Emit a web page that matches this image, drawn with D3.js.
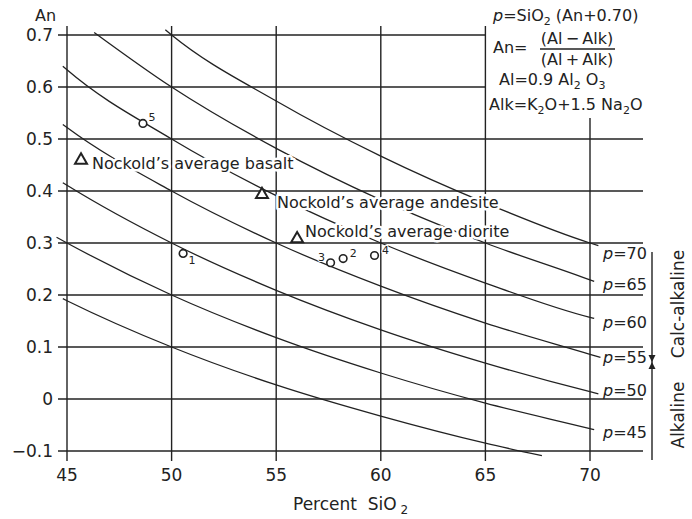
<!DOCTYPE html>
<html>
<head>
<meta charset="utf-8">
<script src="https://cdn.jsdelivr.net/npm/d3@7"></script>
<style>
  body{margin:0;background:#fff}
  svg text{font-family:"DejaVu Sans",sans-serif;fill:#222}
  .halo{stroke:#fff;stroke-width:5px;stroke-linejoin:round;paint-order:stroke}
</style>
</head>
<body>
<svg id="chart" width="692" height="519"></svg>
<script>
// axis ticks
var xTicks = [45, 50, 55, 60, 65, 70];
var yTicks = [-0.1, 0, 0.1, 0.2, 0.3, 0.4, 0.5, 0.6, 0.7];
var yTickLabels = ["\u22120.1", "0", "0.1", "0.2", "0.3", "0.4", "0.5", "0.6", "0.7"];

// p curves, [SiO2, An]
var pValues = [70, 65, 60, 55, 50, 45, 40];
var curveP70 = [[49.7,0.710],[50,0.700],[55,0.573],[60,0.467],[65,0.377],[70,0.300],[70.4,0.295]];
var curveP65 = [[46.3,0.705],[50,0.600],[55,0.482],[60,0.383],[65,0.300],[70,0.229],[70.2,0.226]];
var curveP60 = [[44.8,0.640],[45,0.633],[50,0.500],[55,0.391],[60,0.300],[65,0.223],[70,0.157],[70.2,0.155]];
var curveP55 = [[44.8,0.528],[45,0.522],[50,0.400],[55,0.300],[60,0.217],[65,0.146],[70,0.086],[70.5,0.080]];
var curveP50 = [[44.8,0.416],[45,0.411],[50,0.300],[55,0.209],[60,0.133],[65,0.069],[70,0.014],[70.4,0.010]];
var curveP45 = [[44.5,0.311],[45,0.300],[50,0.200],[55,0.118],[60,0.050],[65,-0.008],[70,-0.057],[70.2,-0.059]];
var curveP40 = [[44.8,0.193],[45,0.189],[50,0.100],[55,0.027],[60,-0.033],[65,-0.085],[67.7,-0.109]];
var curves = [curveP70, curveP65, curveP60, curveP55, curveP50, curveP45, curveP40];
var curveLabelled = [true, true, true, true, true, true, false];

// numbered samples
var sampleIds  = ["1", "2", "3", "4", "5"];
var sampleSiO2 = [50.55, 58.2, 57.6, 59.7, 48.63];
var sampleAn   = [0.280, 0.270, 0.262, 0.276, 0.530];

// Nockold's averages
var nockNames = ["Nockold\u2019s average basalt", "Nockold\u2019s average andesite", "Nockold\u2019s average diorite"];
var nockSiO2  = [45.67, 54.32, 56.0];
var nockAn    = [0.461, 0.395, 0.310];

var svg = d3.select("#chart");
var ink = "#222";

var x = d3.scaleLinear().domain([45, 70]).range([67, 590]);
var y = d3.scaleLinear().domain([-0.1, 0.7]).range([451, 35]);

// grid
var grid = svg.append("g").attr("stroke", ink).attr("stroke-width", 1.4);
grid.selectAll("line.h").data(yTicks).enter().append("line").attr("class","h")
    .attr("x1", 58).attr("x2", function(d){ return d >= 0.55 ? x(65) : 643; })
    .attr("y1", y).attr("y2", y);
grid.selectAll("line.v").data(xTicks).enter().append("line").attr("class","v")
    .attr("x1", x).attr("x2", x)
    .attr("y1", function(d){ return d == 70 ? 118 : 26; }).attr("y2", 461);

// tick labels
svg.selectAll("text.yt").data(yTicks).enter().append("text").attr("class","yt")
    .attr("x", 53).attr("y", y).attr("dy", "0.36em").attr("text-anchor","end")
    .style("font-size","17px").text(function(d,i){ return yTickLabels[i]; });
svg.selectAll("text.xt").data(xTicks).enter().append("text").attr("class","xt")
    .attr("x", x).attr("y", 481).attr("text-anchor","middle")
    .style("font-size","17px").text(function(d){ return d; });

svg.append("text").attr("x", 35).attr("y", 21).style("font-size","16px").text("An");
var xl = svg.append("text").attr("x", 293).attr("y", 510).style("font-size","17px")
    .attr("xml:space","preserve");
xl.append("tspan").text("Percent  SiO");
xl.append("tspan").attr("dy", 4).style("font-size","12px").text(" 2");

// p curves
var line = d3.line().x(function(d){ return x(d[0]); }).y(function(d){ return y(d[1]); })
    .curve(d3.curveMonotoneX);
svg.append("g").selectAll("path").data(curves).enter().append("path")
    .attr("d", line).attr("fill","none").attr("stroke", ink).attr("stroke-width", 1.3);

// p labels at the curve ends
var pLabelShift = [7, 2, 4, 0, -4, 2, 0];
curves.forEach(function(c, i){
    if(!curveLabelled[i]) return;
    var end = c[c.length-1];
    var t = svg.append("text").attr("x", 603).attr("y", y(end[1]) + pLabelShift[i]).attr("dy","0.38em")
        .style("font-size","16px");
    t.append("tspan").style("font-style","italic").text("p");
    t.append("tspan").text("=" + pValues[i]);
});

// Nockold labels and triangles
var nockDx = [11, 15, 8], nockDy = [10, 14, -1];
svg.selectAll("text.nock").data(nockNames).enter().append("text").attr("class","nock halo")
    .attr("x", function(d,i){ return x(nockSiO2[i]) + nockDx[i]; })
    .attr("y", function(d,i){ return y(nockAn[i]) + nockDy[i]; })
    .style("font-size","16px").text(function(d){ return d; });
svg.selectAll("path.tri").data(nockNames).enter().append("path").attr("class","tri")
    .attr("d", d3.symbol().type(d3.symbolTriangle).size(62))
    .attr("transform", function(d,i){ return "translate(" + x(nockSiO2[i]) + "," + (y(nockAn[i]) + 1) + ")"; })
    .attr("fill","#fff").attr("stroke", ink).attr("stroke-width", 2);

// samples
var sDx = [9, 10, -9, 11, 9], sDy = [7, -5, -6, -5, -6];
svg.selectAll("circle.s").data(sampleIds).enter().append("circle").attr("class","s")
    .attr("cx", function(d,i){ return x(sampleSiO2[i]); })
    .attr("cy", function(d,i){ return y(sampleAn[i]); })
    .attr("r", 3.8).attr("fill","#fff").attr("stroke", ink).attr("stroke-width", 1.6);
svg.selectAll("text.s").data(sampleIds).enter().append("text").attr("class","s halo")
    .attr("x", function(d,i){ return x(sampleSiO2[i]) + sDx[i]; })
    .attr("y", function(d,i){ return y(sampleAn[i]) + sDy[i]; })
    .attr("dy","0.35em").attr("text-anchor","middle").style("font-size","11px")
    .style("stroke-width","2px").style("fill", ink).text(function(d){ return d; });

// formula box top right
var f = svg.append("g").style("font-size","16px");
var l1 = f.append("text").attr("x", 493).attr("y", 21);
l1.append("tspan").style("font-style","italic").text("p");
l1.append("tspan").text("=SiO");
l1.append("tspan").attr("dy", 4).style("font-size","11px").text("2");
l1.append("tspan").attr("dy", -4).text(" (An+0.70)");
f.append("text").attr("x", 493).attr("y", 53).text("An=");
f.append("text").attr("x", 577).attr("y", 44).attr("text-anchor","middle").text("(Al\u2009\u2212\u2009Alk)");
f.append("line").attr("x1", 540).attr("x2", 615).attr("y1", 49).attr("y2", 49)
    .attr("stroke", ink).attr("stroke-width", 1.3);
f.append("text").attr("x", 577).attr("y", 65).attr("text-anchor","middle").text("(Al\u2009+\u2009Alk)");
var l3 = f.append("text").attr("x", 499).attr("y", 85);
l3.append("tspan").text("Al=0.9 Al");
l3.append("tspan").attr("dy", 4).style("font-size","11px").text("2");
l3.append("tspan").attr("dy", -4).text(" O");
l3.append("tspan").attr("dy", 4).style("font-size","11px").text("3");
var l4 = f.append("text").attr("x", 489).attr("y", 110);
l4.append("tspan").text("Alk=K");
l4.append("tspan").attr("dy", 4).style("font-size","11px").text("2");
l4.append("tspan").attr("dy", -4).text("O+1.5 Na");
l4.append("tspan").attr("dy", 4).style("font-size","11px").text("2");
l4.append("tspan").attr("dy", -4).text("O");

// calc-alkaline / alkaline bracket
var bx = 652, by = 362;
svg.append("line").attr("x1", bx).attr("x2", bx).attr("y1", 252).attr("y2", 460)
    .attr("stroke", ink).attr("stroke-width", 1.4);
svg.append("path").attr("d", "M" + (bx-3.5) + "," + (by-7) + "L" + (bx+3.5) + "," + (by-7) + "L" + bx + "," + by + "Z")
    .attr("fill", ink);
svg.append("path").attr("d", "M" + (bx-3.5) + "," + (by+7) + "L" + (bx+3.5) + "," + (by+7) + "L" + bx + "," + by + "Z")
    .attr("fill", ink);
svg.append("text").attr("transform","translate(684,304) rotate(-90)").attr("text-anchor","middle")
    .style("font-size","17px").text("Calc-alkaline");
svg.append("text").attr("transform","translate(684,415) rotate(-90)").attr("text-anchor","middle")
    .style("font-size","17px").text("Alkaline");
</script>
</body>
</html>
